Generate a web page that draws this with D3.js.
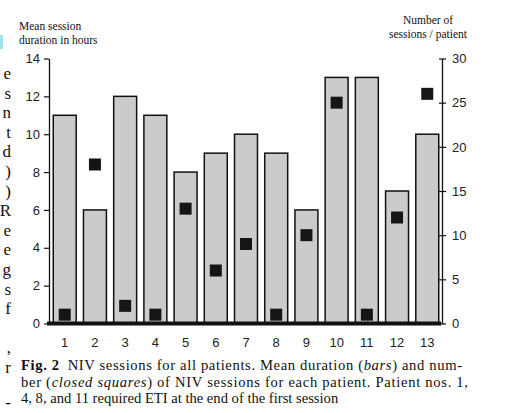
<!DOCTYPE html>
<html><head><meta charset="utf-8">
<script src="https://cdn.jsdelivr.net/npm/d3@7"></script>
<style>
html,body{margin:0;padding:0;background:#fff;}
svg{display:block;}
</style></head>
<body>
<svg id="c" width="524" height="413"></svg>
<script>
const patients = [1,2,3,4,5,6,7,8,9,10,11,12,13];
const meanDuration = [11,6,12,11,8,9,10,9,6,13,13,7,10];
const sessionCount = [1,18,2,1,13,6,9,1,10,25,1,12,26];
const leftTicks = [0,2,4,6,8,10,12,14];
const rightTicks = [0,5,10,15,20,25,30];
const leftTitle = ["Mean session","duration in hours"];
const rightTitle = ["Number of","sessions / patient"];
const marginLetters = ["e","s","n","t","d",")",")","R","e","e","g","s","f","",",","r"];

const svg = d3.select("#c");
const sans = "Liberation Sans, Arial, sans-serif";
const serif = "Liberation Serif, Times New Roman, serif";

const x = d3.scaleBand().domain(patients).range([46,446]).paddingInner(0.24).paddingOuter(0.24);
const yL = d3.scaleLinear().domain([0,14]).range([323.5,58.5]);
const yR = d3.scaleLinear().domain([0,30]).range([323.5,58.5]);

// margin text from adjacent column
svg.append("rect").attr("x",0).attr("y",35).attr("width",3).attr("height",14).attr("fill","#9fe3f0");
svg.append("g").selectAll("text").data(marginLetters).join("text")
  .attr("x",11).attr("y",(d,i)=>79+i*19.6)
  .attr("text-anchor","end").attr("font-family",serif).attr("font-size",17).attr("fill","#111")
  .text(d=>d);
svg.append("text").attr("x",11).attr("y",408).attr("text-anchor","end").attr("font-family",serif).attr("font-size",17).text("-");

// bars
svg.append("g").selectAll("rect").data(patients).join("rect")
  .attr("x",d=>x(d)).attr("width",x.bandwidth())
  .attr("y",(d,i)=>yL(meanDuration[i])).attr("height",(d,i)=>yL(0)-yL(meanDuration[i]))
  .attr("fill","#cacbcd").attr("stroke","#111").attr("stroke-width",1.5);

// squares
const sq = 12;
svg.append("g").selectAll("rect").data(patients).join("rect")
  .attr("x",d=>x(d)+x.bandwidth()/2-sq/2).attr("width",sq)
  .attr("y",(d,i)=>yR(sessionCount[i])-sq/2).attr("height",sq)
  .attr("fill","#151515");

// left axis
const gL = svg.append("g").attr("transform","translate(49,0)")
  .call(d3.axisLeft(yL).tickValues(leftTicks).tickSize(5).tickPadding(4).tickSizeOuter(0));
gL.attr("font-family",sans).attr("font-size",13);
gL.select(".domain").attr("stroke","#111").attr("stroke-width",1.3);
gL.selectAll(".tick line").attr("stroke","#111").attr("stroke-width",1.2);
gL.selectAll(".tick text").attr("fill","#222");

// right axis
const gR = svg.append("g").attr("transform","translate(442,0)")
  .call(d3.axisRight(yR).tickValues(rightTicks).tickSize(4).tickPadding(6).tickSizeOuter(0));
gR.attr("font-family",sans).attr("font-size",13);
gR.select(".domain").attr("stroke","#111").attr("stroke-width",1.3);
gR.selectAll(".tick line").attr("stroke","#111").attr("stroke-width",1.2).attr("x1",-3);
gR.selectAll(".tick text").attr("fill","#222");

// baseline
svg.append("line").attr("x1",47).attr("x2",441).attr("y1",yL(0)).attr("y2",yL(0))
  .attr("stroke","#111").attr("stroke-width",4);

// x axis labels
const gX = svg.append("g").attr("transform","translate(0,338)")
  .call(d3.axisBottom(x).tickSize(0).tickPadding(0));
gX.attr("font-family",sans).attr("font-size",13);
gX.select(".domain").remove();
gX.selectAll(".tick text").attr("fill","#222");

// axis titles
svg.append("g").selectAll("text").data(leftTitle).join("text")
  .attr("x",19).attr("y",(d,i)=>30+i*14).attr("font-family",serif).attr("font-size",11.5).attr("fill","#111").text(d=>d);
svg.append("g").selectAll("text").data(rightTitle).join("text")
  .attr("x",428).attr("y",(d,i)=>24+i*14).attr("text-anchor","middle").attr("font-family",serif).attr("font-size",11.5).attr("fill","#111").text(d=>d);

// caption
const cap = svg.append("g").attr("font-family",serif).attr("font-size",14.6).attr("fill","#111");
const l1 = cap.append("text").attr("x",21).attr("y",370).attr("textLength",441).attr("lengthAdjust","spacing");
l1.append("tspan").attr("font-weight","bold").text("Fig. 2");
l1.append("tspan").text("\u2002NIV sessions for all patients. Mean duration (");
l1.append("tspan").attr("font-style","italic").text("bars");
l1.append("tspan").text(") and num-");
const l2 = cap.append("text").attr("x",21).attr("y",386.5).attr("textLength",447).attr("lengthAdjust","spacing");
l2.append("tspan").text("ber (");
l2.append("tspan").attr("font-style","italic").text("closed squares");
l2.append("tspan").text(") of NIV sessions for each patient. Patient nos. 1,");
cap.append("text").attr("x",21).attr("y",403).text("4, 8, and 11 required ETI at the end of the first session");
</script>
</body></html>
